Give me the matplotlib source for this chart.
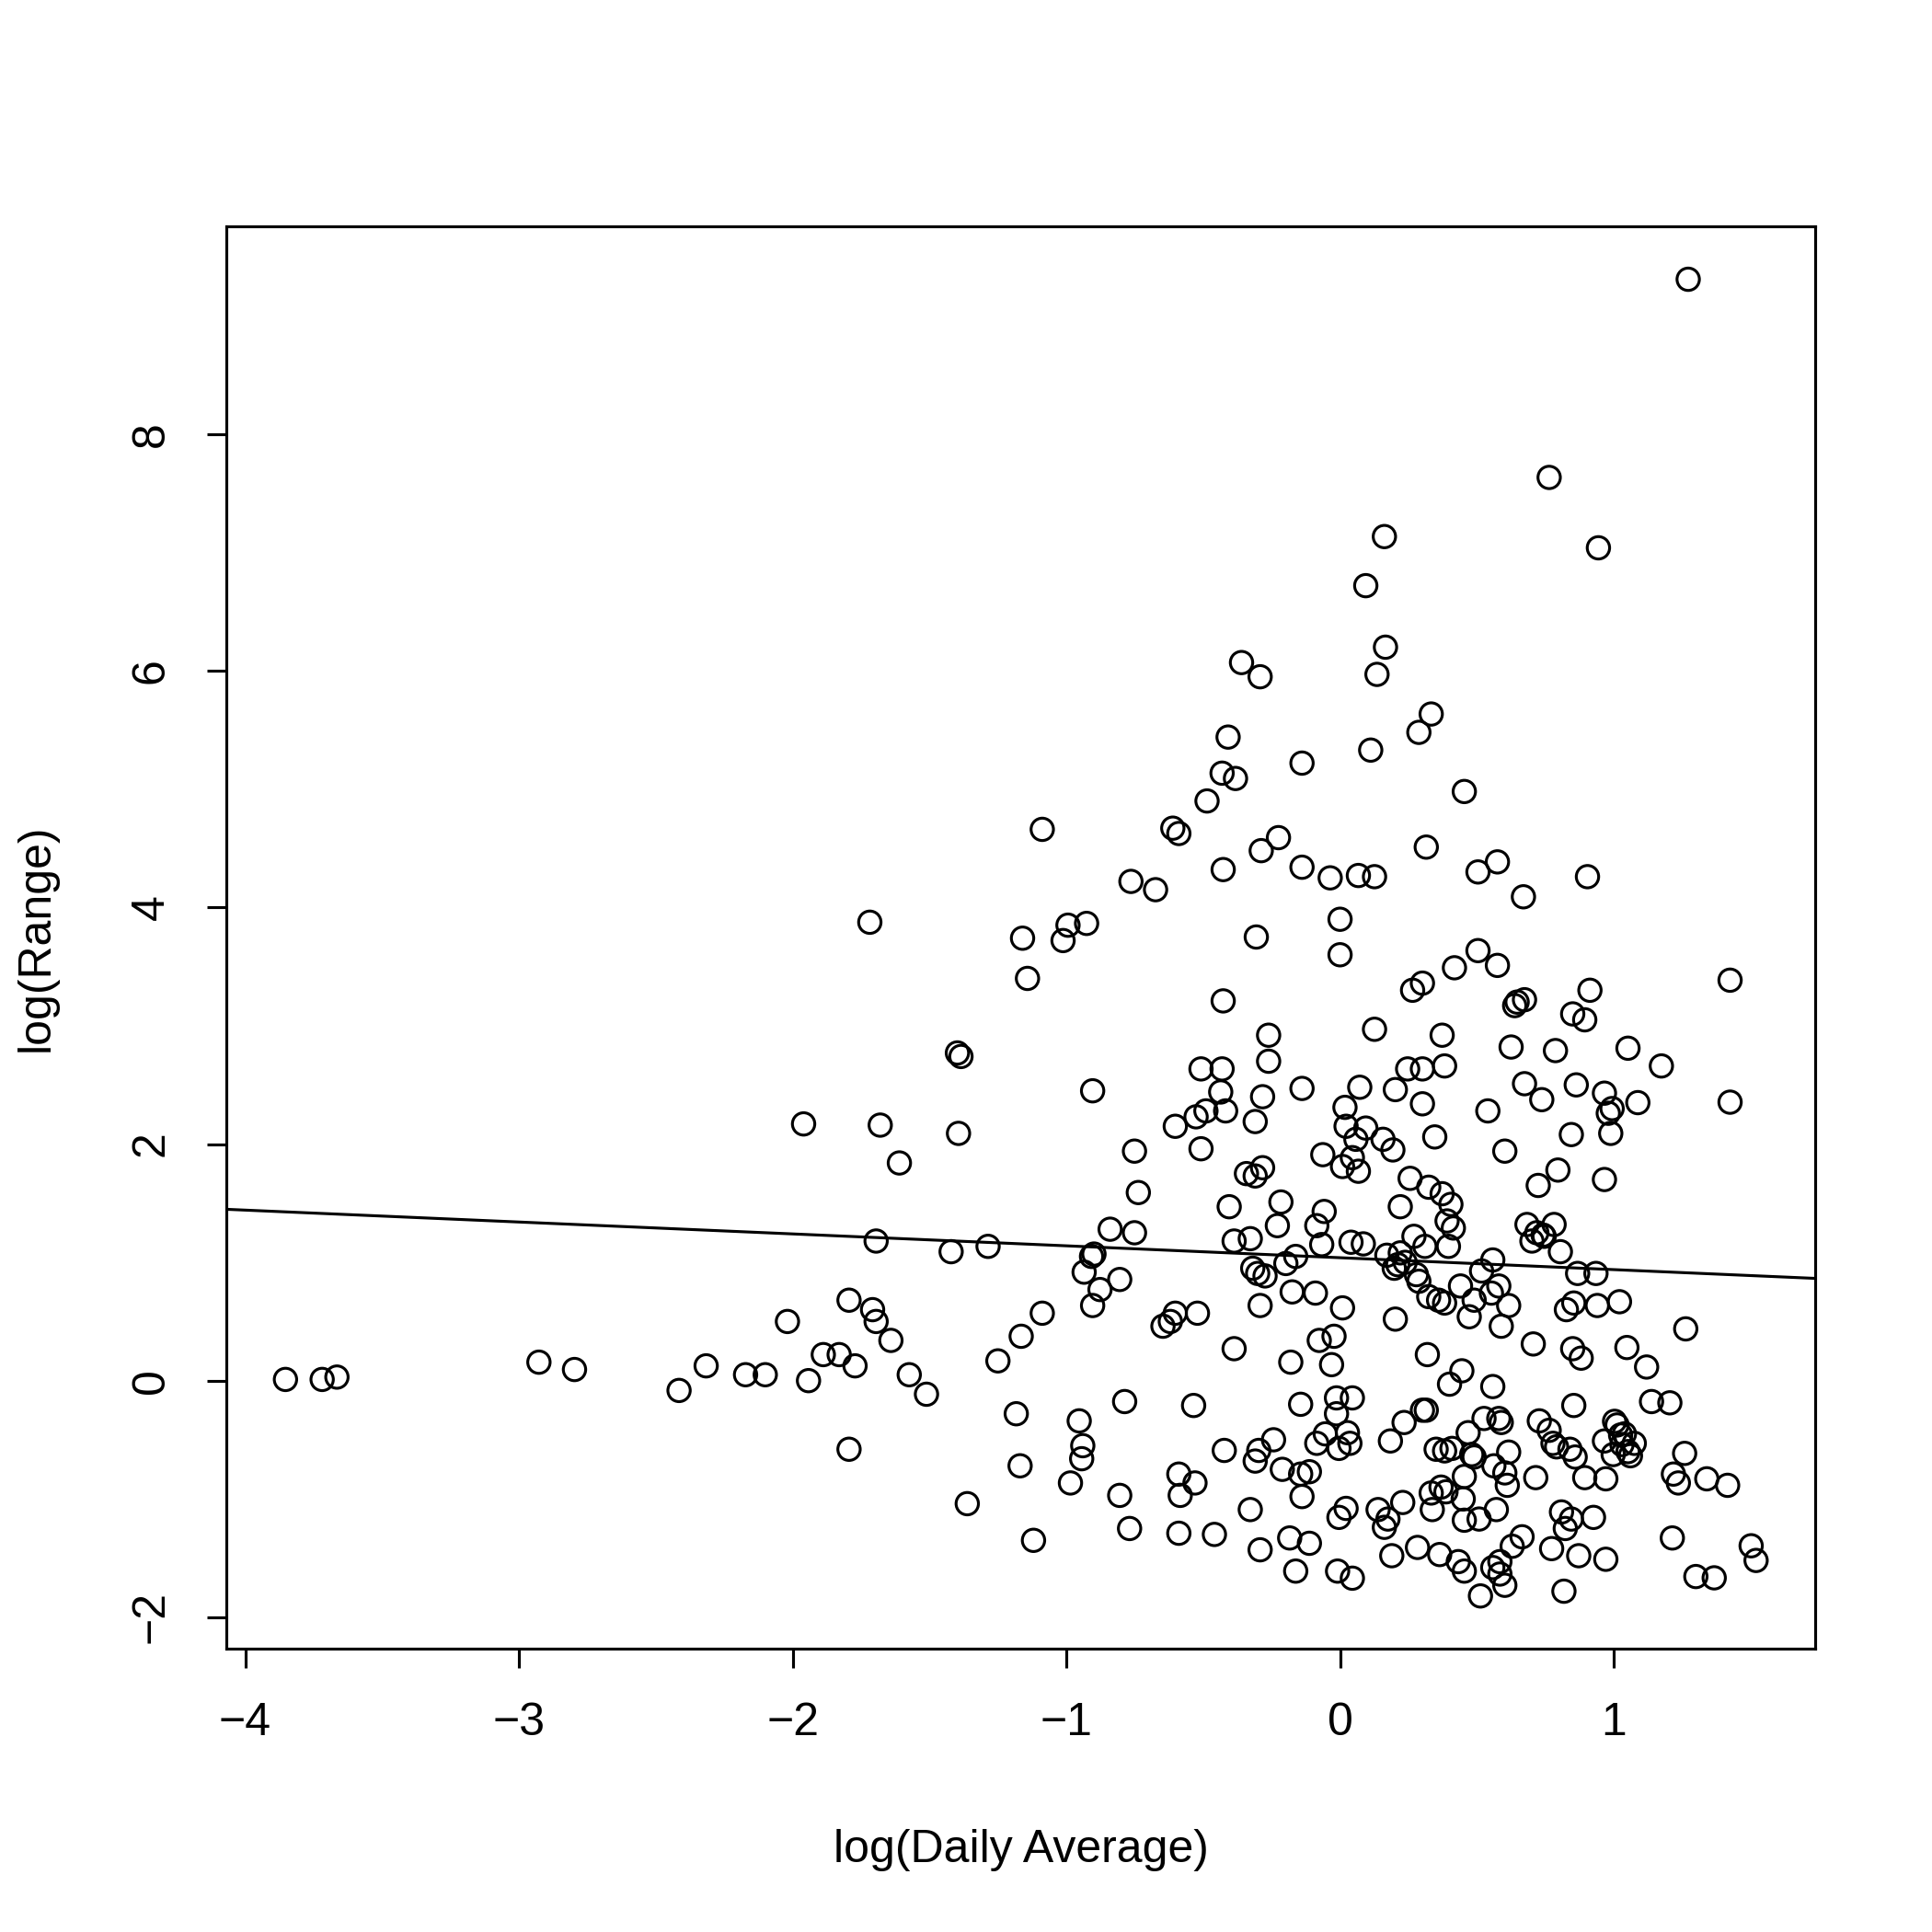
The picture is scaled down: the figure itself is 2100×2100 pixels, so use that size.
import matplotlib
matplotlib.use("Agg")
import matplotlib.pyplot as plt

plt.rcParams['font.family'] = ['Liberation Sans', 'DejaVu Sans']

# (log daily average, log range) pairs
pts = [
(-3.853,0.01),(-3.719,0.01),(-3.665,0.03),(-2.927,0.156),(-2.797,0.094),
(-2.415,-0.083),(-2.316,0.125),(-2.172,0.05),(-2.10,0.05),(-2.019,0.5),
(-1.96,2.17),(-1.942,0.0),(-1.888,0.22),(-1.83,0.22),(-1.794,0.68),
(-1.772,0.125),(-1.794,-0.58),(-1.718,3.875),(-1.708,0.60),(-1.695,0.50),
(-1.695,1.18),(-1.68,2.16),(-1.641,0.34),(-1.61,1.84),(-1.574,0.05),
(-1.511,-0.115),(-1.421,1.09),(-1.398,2.77),(-1.385,2.74),(-1.394,2.09),
(-1.362,-1.04),(-1.286,1.135),(-1.25,0.167),(-1.183,-0.28),(-1.169,-0.72),
(-1.165,0.375),(-1.16,3.74),(-1.142,3.40),(-1.12,-1.35),(-1.088,4.66),
(-1.088,0.57),(-1.012,3.72),(-0.994,3.85),(-0.985,-0.865),(-0.953,-0.34),
(-0.94,-0.55),(-0.944,-0.66),(-0.926,3.865),(-0.935,0.917),(-0.908,1.05),
(-0.899,1.07),(-0.904,2.45),(-0.904,0.635),(-0.877,0.77),(-0.84,1.28),
(-0.805,0.855),(-0.805,-0.97),(-0.787,-0.177),(-0.769,-1.25),(-0.764,4.22),
(-0.751,1.25),(-0.751,1.94),(-0.737,1.59),(-0.674,4.15),(-0.647,0.46),
(-0.62,0.5),(-0.611,4.67),(-0.602,0.57),(-0.602,2.15),(-0.589,4.625),
(-0.589,-0.79),(-0.589,-1.29),(-0.584,-0.97),(-0.535,-0.21),(-0.53,-0.865),
(-0.521,0.57),(-0.526,2.23),(-0.508,2.635),(-0.508,1.96),(-0.49,2.28),
(-0.486,4.90),(-0.459,-1.30),(-0.436,2.44),(-0.431,2.635),(-0.431,5.135),
(-0.427,4.32),(-0.427,3.21),(-0.423,-0.59),(-0.418,2.28),(-0.409,5.44),
(-0.405,1.47),(-0.382,5.09),(-0.387,0.27),(-0.387,1.18),(-0.36,6.07),
(-0.342,1.75),(-0.328,1.20),(-0.328,-1.09),(-0.319,0.95),(-0.31,1.73),
(-0.31,-0.68),(-0.306,3.75),(-0.31,2.19),(-0.301,0.906),(-0.297,-0.59),
(-0.292,-1.43),(-0.288,4.48),(-0.292,0.635),(-0.292,5.95),(-0.283,2.40),
(-0.283,1.80),(-0.274,0.885),(-0.261,2.70),(-0.261,2.92),(-0.243,-0.50),
(-0.225,4.59),(-0.229,1.31),(-0.216,1.51),(-0.211,-0.75),(-0.198,0.99),
(-0.184,-1.33),(-0.18,0.156),(-0.175,0.75),(-0.162,-1.61),(-0.162,1.05),
(-0.144,-0.20),(-0.139,2.47),(-0.139,5.22),(-0.139,4.34),(-0.144,-0.79),
(-0.139,-0.98),(-0.112,-0.77),(-0.112,-1.375),(-0.09,0.74),(-0.085,1.31),
(-0.085,-0.53),(-0.076,0.34),(-0.067,1.15),(-0.063,1.91),(-0.058,1.43),
(-0.054,-0.45),(-0.036,4.25),(-0.031,0.135),(-0.022,0.375),(-0.013,-0.28),
(-0.013,-0.146),(-0.009,-1.61),(-0.004,-1.156),(-0.004,-0.573),(0.0,3.60),
(0.0,3.90),(0.009,0.615),(0.009,1.81),(0.018,2.31),(0.022,-1.08),
(0.027,-0.44),(0.022,2.15),(0.036,-0.53),(0.04,1.17),(0.045,-0.146),
(0.045,-1.67),(0.045,1.885),(0.058,2.04),(0.067,4.27),(0.067,1.77),
(0.072,2.48),(0.085,1.156),(0.094,6.72),(0.094,2.135),(0.112,5.33),
(0.126,4.26),(0.126,2.97),(0.135,5.97),(0.139,-1.09),(0.157,2.04),
(0.162,7.135),(0.166,6.20),(0.162,-1.24),(0.171,1.06),(0.175,-1.17),
(0.184,-0.51),(0.189,-1.48),(0.193,1.95),(0.198,0.95),(0.202,2.46),
(0.202,0.52),(0.211,0.98),(0.22,1.08),(0.22,1.47),(0.229,-1.03),
(0.234,-0.354),(0.238,1.0),(0.247,2.635),(0.256,1.71),(0.265,3.30),
(0.27,1.22),(0.279,0.896),(0.283,-1.41),(0.288,0.84),(0.288,5.48),
(0.301,3.36),(0.301,2.34),(0.301,-0.25),(0.301,2.635),(0.31,1.135),
(0.315,4.51),(0.315,-0.25),(0.319,0.22),(0.324,1.635),(0.324,0.71),
(0.333,-0.95),(0.333,5.635),(0.346,2.06),(0.351,-0.58),(0.337,-1.09),
(0.36,0.68),(0.364,-1.47),(0.369,-0.90),(0.373,1.58),(0.373,2.92),
(0.382,2.66),(0.382,0.656),(0.382,-0.594),(0.387,-0.94),(0.391,1.35),
(0.396,1.135),(0.405,1.49),(0.40,-0.03),(0.414,1.29),(0.409,-0.573),
(0.418,3.49),(0.432,-1.53),(0.44,0.80),(0.445,0.083),(0.45,-1.0),
(0.454,4.98),(0.454,-0.81),(0.454,-1.18),(0.454,-1.61),(0.468,-0.44),
(0.472,0.54),(0.481,-0.625),(0.49,-0.646),(0.49,0.68),(0.504,3.635),
(0.504,4.30),(0.508,-1.17),(0.513,-1.82),(0.517,0.927),(0.526,-0.32),
(0.54,2.28),(0.553,0.74),(0.558,1.02),(0.558,-0.05),(0.558,-1.58),
(0.562,-0.72),(0.571,-1.09),(0.575,3.51),(0.575,4.385),(0.58,0.80),
(0.58,-0.32),(0.584,-1.635),(0.584,-1.53),(0.589,-0.354),(0.589,0.46),
(0.602,1.94),(0.602,-0.78),(0.611,-0.885),(0.602,-1.73),(0.616,0.635),
(0.616,-0.604),(0.625,2.82),(0.629,-1.40),(0.638,3.17),(0.647,3.20),
(0.665,-1.32),(0.674,3.22),(0.67,4.09),(0.674,2.51),(0.683,1.32),
(0.701,1.18),(0.706,0.31),(0.715,-0.82),(0.719,1.25),(0.724,1.65),
(0.728,-0.34),(0.737,2.375),(0.742,1.23),(0.746,1.22),(0.764,7.635),
(0.764,-0.42),(0.773,-1.42),(0.778,-0.53),(0.782,1.32),(0.787,2.79),
(0.791,-0.56),(0.796,1.78),(0.805,1.09),(0.809,-1.11),(0.818,-1.78),
(0.823,-1.25),(0.827,0.60),(0.84,-0.58),(0.845,-1.17),(0.845,2.08),
(0.85,3.10),(0.85,0.27),(0.854,-0.21),(0.854,0.656),(0.859,-0.646),
(0.863,2.50),(0.868,0.906),(0.872,-1.48),(0.881,0.19),(0.894,-0.82),
(0.894,3.05),(0.904,4.26),(0.913,3.30),(0.926,-1.156),(0.935,0.906),
(0.94,0.635),(0.944,7.04),(0.966,2.43),(0.966,1.70),(0.966,-0.51),
(0.971,-1.51),(0.971,-0.83),(0.98,2.26),(0.989,2.09),(0.994,2.30),
(0.998,-0.625),(1.003,-0.344),(1.012,-0.375),(1.021,0.667),(1.025,-0.46),
(1.03,-0.54),(1.039,-0.45),(1.048,0.28),(1.052,-0.60),(1.052,2.81),
(1.061,-0.635),(1.075,-0.53),(1.088,2.35),(1.12,0.115),(1.138,-0.177),
(1.174,2.66),(1.205,-0.1875),(1.214,-1.33),(1.218,-0.79),(1.236,-0.865),
(1.259,-0.615),(1.263,0.4375),(1.272,9.31),(1.30,-1.656),(1.34,-0.83),
(1.367,-1.667),(1.416,-0.885),(1.425,3.385),(1.425,2.354),(1.502,-1.396),
(1.52,-1.52),
]
log_daily_avg = [p[0] for p in pts]
log_range = [p[1] for p in pts]

fit_intercept = 1.039
fit_slope = -0.1006

x_ticks = [-4, -3, -2, -1, 0, 1]
y_ticks = [-2, 0, 2, 4, 6, 8]
x_label = "log(Daily Average)"
y_label = "log(Range)"

fig = plt.figure(figsize=(7, 7), dpi=300)
ax = fig.add_axes([0.1173, 0.1467, 0.8221, 0.7360])
ax.scatter(log_daily_avg, log_range, s=34, facecolors='none',
           edgecolors='black', linewidths=0.75, zorder=3)
ax.axline((0, fit_intercept), slope=fit_slope, color='black', lw=0.75, zorder=2)

ax.set_xlim(-4.068, 1.735)
ax.set_ylim(-2.265, 9.755)
ax.set_xticks(x_ticks)
ax.set_yticks(y_ticks)
ax.set_xticklabels([f"{t}".replace('-', '\u2212') for t in x_ticks])
ax.set_yticklabels([f"{t}".replace('-', '\u2212') for t in y_ticks],
                   rotation=90, va='center')
ax.tick_params(direction='out', length=5, width=0.75, labelsize=12, pad=9)
for s in ax.spines.values():
    s.set_linewidth(0.75)
ax.set_xlabel(x_label, fontsize=12, labelpad=22)
ax.set_ylabel(y_label, fontsize=12, labelpad=19)

fig.savefig("out.png", dpi=300, facecolor='white')
